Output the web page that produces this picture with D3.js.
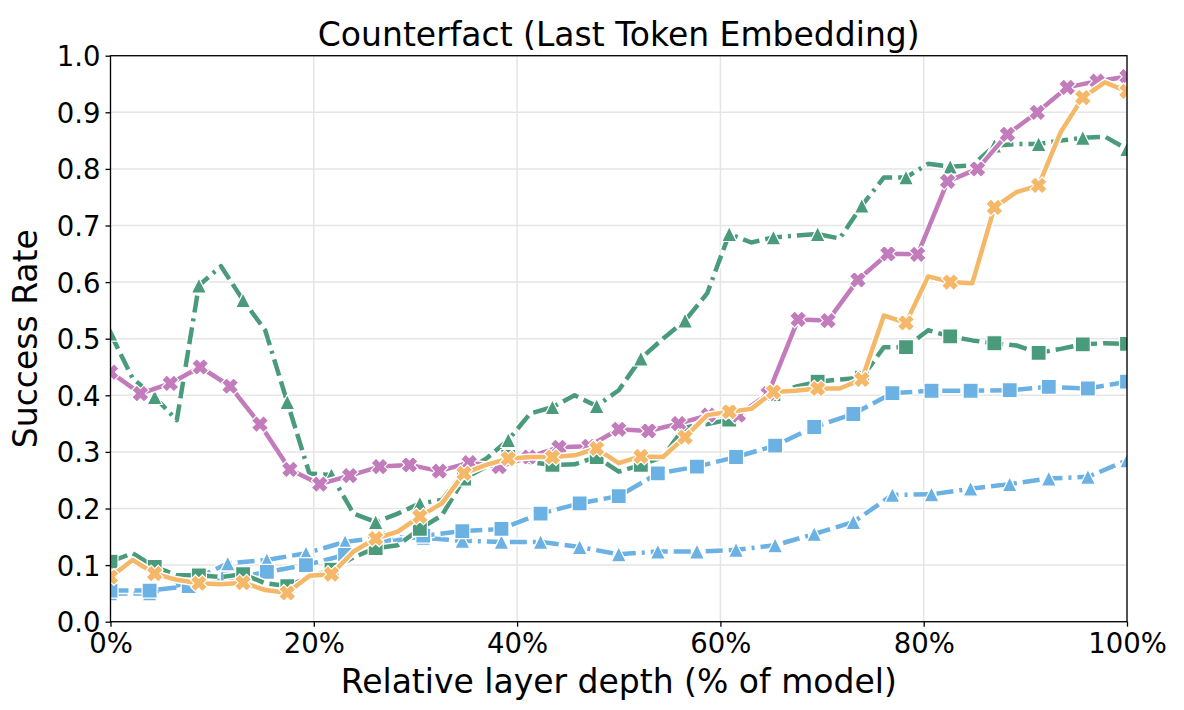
<!DOCTYPE html>
<html>
<head>
<meta charset="utf-8">
<script src="https://d3js.org/d3.v7.min.js"></script>
<style>
  body { margin: 0; background: #ffffff; }
  text { font-family: "DejaVu Sans", sans-serif; fill: #000; }
</style>
</head>
<body>
<div id="my_dataviz"></div>
<script>

// values, one array per line (x is spread evenly over 0..100%)
var magentaX = [0.441,0.403,0.421,0.450,0.416,0.349,0.269,0.243,0.258,0.274,0.277,0.266,0.281,0.274,0.291,0.308,0.310,0.340,0.337,0.350,0.365,0.365,0.403,0.534,0.532,0.604,0.650,0.649,0.778,0.800,0.861,0.900,0.944,0.955,0.963];
var orangeX = [0.079,0.109,0.085,0.074,0.068,0.066,0.069,0.056,0.051,0.081,0.084,0.124,0.147,0.159,0.186,0.209,0.262,0.277,0.288,0.291,0.291,0.294,0.306,0.280,0.292,0.291,0.326,0.365,0.371,0.376,0.406,0.408,0.412,0.412,0.428,0.541,0.528,0.610,0.600,0.598,0.732,0.759,0.771,0.865,0.926,0.953,0.937];
var greenSquare = [0.106,0.121,0.097,0.082,0.082,0.079,0.084,0.068,0.063,0.079,0.092,0.114,0.130,0.135,0.164,0.188,0.253,0.274,0.291,0.282,0.277,0.278,0.291,0.265,0.277,0.291,0.345,0.349,0.357,0.375,0.402,0.415,0.424,0.428,0.431,0.485,0.485,0.515,0.504,0.497,0.492,0.488,0.475,0.482,0.490,0.492,0.491];
var greenTriangle = [0.509,0.430,0.397,0.356,0.594,0.628,0.568,0.515,0.388,0.262,0.259,0.191,0.176,0.191,0.209,0.215,0.265,0.288,0.321,0.368,0.379,0.400,0.381,0.409,0.465,0.500,0.532,0.580,0.685,0.670,0.679,0.682,0.685,0.677,0.735,0.785,0.785,0.809,0.804,0.806,0.841,0.844,0.844,0.850,0.855,0.857,0.835];
var blueSquare = [0.055,0.055,0.063,0.075,0.088,0.100,0.118,0.140,0.152,0.160,0.164,0.191,0.209,0.222,0.262,0.274,0.291,0.311,0.344,0.367,0.404,0.408,0.408,0.409,0.415,0.412,0.424];
var blueTriangle = [0.050,0.050,0.070,0.103,0.109,0.121,0.141,0.150,0.148,0.143,0.141,0.141,0.132,0.119,0.124,0.124,0.127,0.135,0.155,0.176,0.224,0.225,0.235,0.243,0.253,0.256,0.285];

var yTicks = [0.0,0.1,0.2,0.3,0.4,0.5,0.6,0.7,0.8,0.9,1.0];
var xTicks = [0,0.2,0.4,0.6,0.8,1.0];

// drawing order: bottom first
var series = [
  {values: blueTriangle,  color: "#6cb1e3", dash: "dashdot", marker: "tri",    every: 1},
  {values: blueSquare,    color: "#6cb1e3", dash: "dashed",  marker: "square", every: 1},
  {values: greenTriangle, color: "#4a9b7b", dash: "dashdot", marker: "tri",    every: 2},
  {values: greenSquare,   color: "#4a9b7b", dash: "dashed",  marker: "square", every: 2},
  {values: magentaX,      color: "#c27bbb", dash: "solid",   marker: "x",      every: 1},
  {values: orangeX,       color: "#f5b768", dash: "solid",   marker: "x",      every: 2}
];

var W = 1184, H = 710;
var margin = {top: 55.7, right: 57, bottom: 88.3, left: 110.5},
    width = W - margin.left - margin.right,
    height = H - margin.top - margin.bottom;

var svg = d3.select("#my_dataviz")
  .append("svg")
    .attr("width", W)
    .attr("height", H);

var g = svg.append("g")
    .attr("transform", "translate(" + margin.left + "," + margin.top + ")");

var x = d3.scaleLinear().domain([0, 1]).range([0, width]);
var y = d3.scaleLinear().domain([0, 1]).range([height, 0]);

// grid
g.append("g").selectAll("line").data(xTicks).enter().append("line")
  .attr("x1", function(d){ return x(d); }).attr("x2", function(d){ return x(d); })
  .attr("y1", 0).attr("y2", height)
  .attr("stroke", "#e5e5e5").attr("stroke-width", 1.5);
g.append("g").selectAll("line").data(yTicks).enter().append("line")
  .attr("y1", function(d){ return y(d); }).attr("y2", function(d){ return y(d); })
  .attr("x1", 0).attr("x2", width)
  .attr("stroke", "#e5e5e5").attr("stroke-width", 1.5);

// clip lines and markers to the axes box
svg.append("defs").append("clipPath").attr("id", "clip")
  .append("rect").attr("x", 0).attr("y", 0).attr("width", width).attr("height", height);

var plot = g.append("g").attr("clip-path", "url(#clip)");

var lw = 4.5;
var dashes = {
  solid: null,
  dashed: "18,6",
  dashdot: "17,6,17,6,3,6"
};

// marker paths
var ms = 15;
function triPath() {
  var h = ms / 2;
  return "M0," + (-h) + "L" + h + "," + h + "L" + (-h) + "," + h + "Z";
}
function squarePath() {
  var h = ms / 2;
  return "M" + (-h) + "," + (-h) + "H" + h + "V" + h + "H" + (-h) + "Z";
}
function xPath() {
  // filled plus shape, turned 45 degrees
  var a = 1.25;
  var pts = [[-a,-3],[-a,-a],[-3,-a],[-3,a],[-a,a],[-a,3],[a,3],[a,a],[3,a],[3,-a],[a,-a],[a,-3]];
  var s = (ms + 2) / 6, c = Math.SQRT1_2;
  return "M" + pts.map(function(p){
    var px = p[0] * s, py = p[1] * s;
    return ((px - py) * c).toFixed(2) + "," + ((px + py) * c).toFixed(2);
  }).join("L") + "Z";
}
var markerPaths = {tri: triPath(), square: squarePath(), x: xPath()};

series.forEach(function(s) {
  var n = s.values.length;
  var pts = s.values.map(function(v, i){ return {x: i / (n - 1), y: v, i: i}; });
  var line = d3.line().x(function(d){ return x(d.x); }).y(function(d){ return y(d.y); });

  // white halo under the line
  plot.append("path").datum(pts)
    .attr("d", line)
    .attr("fill", "none")
    .attr("stroke", "#ffffff")
    .attr("stroke-width", lw + 3)
    .attr("stroke-linejoin", "round")
    .attr("stroke-dasharray", dashes[s.dash]);

  plot.append("path").datum(pts)
    .attr("d", line)
    .attr("fill", "none")
    .attr("stroke", s.color)
    .attr("stroke-width", lw)
    .attr("stroke-linejoin", "round")
    .attr("stroke-linecap", s.dash == "solid" ? "square" : "butt")
    .attr("stroke-dasharray", dashes[s.dash]);

  plot.append("g").selectAll("path")
    .data(pts.filter(function(d){ return d.i % s.every == 0; }))
    .enter().append("path")
      .attr("transform", function(d){ return "translate(" + x(d.x) + "," + y(d.y) + ")"; })
      .attr("d", markerPaths[s.marker])
      .attr("fill", s.color)
      .attr("stroke", "#ffffff")
      .attr("stroke-width", 1.2)
      .attr("stroke-linejoin", "miter");
});

// frame
g.append("rect")
  .attr("x", 0).attr("y", 0).attr("width", width).attr("height", height)
  .attr("fill", "none").attr("stroke", "#000").attr("stroke-width", 1.3);

// Y axis
var yAxis = g.append("g")
  .call(d3.axisLeft(y).tickValues(yTicks).tickSize(5).tickPadding(5).tickFormat(d3.format(".1f")));
yAxis.select(".domain").remove();
yAxis.selectAll("line").attr("stroke-width", 1.3);
yAxis.selectAll("text").attr("font-size", 27.5).attr("font-family", "DejaVu Sans").attr("dy", "0.36em");

// X axis
var xAxis = g.append("g")
  .attr("transform", "translate(0," + height + ")")
  .call(d3.axisBottom(x).tickValues(xTicks).tickSize(5).tickPadding(5).tickFormat(d3.format(".0%")));
xAxis.select(".domain").remove();
xAxis.selectAll("line").attr("stroke-width", 1.3);
xAxis.selectAll("text").attr("font-size", 27.5).attr("font-family", "DejaVu Sans").attr("dy", "0.76em");

// title and labels
svg.append("text")
  .attr("x", margin.left + width / 2).attr("y", 46)
  .attr("text-anchor", "middle").attr("font-size", 33)
  .text("Counterfact (Last Token Embedding)");

svg.append("text")
  .attr("x", margin.left + width / 2).attr("y", 693)
  .attr("text-anchor", "middle").attr("font-size", 33)
  .text("Relative layer depth (% of model)");

svg.append("text")
  .attr("transform", "translate(37," + (margin.top + height / 2) + ") rotate(-90)")
  .attr("text-anchor", "middle").attr("font-size", 33)
  .text("Success Rate");

</script>
</body>
</html>
